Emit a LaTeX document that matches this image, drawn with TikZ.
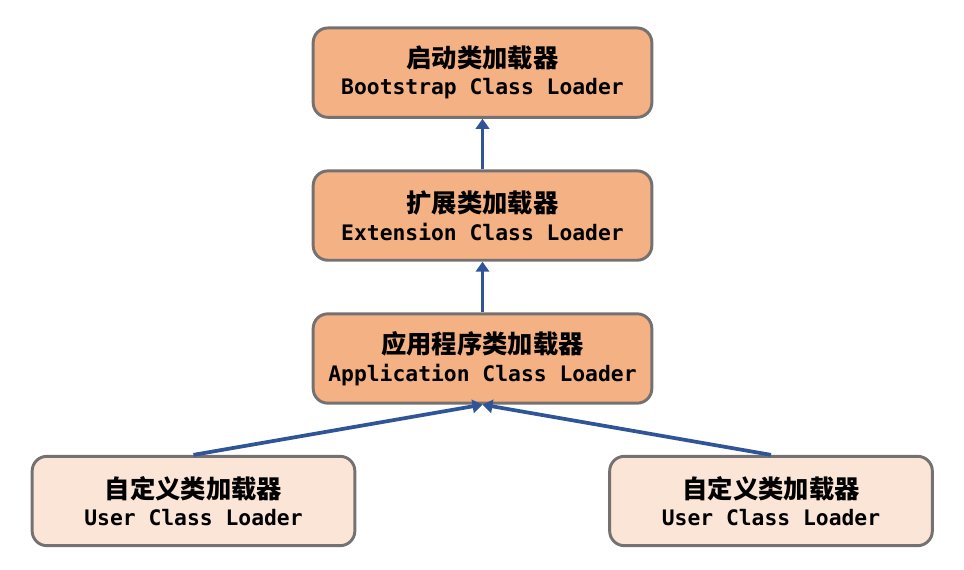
\documentclass[tikz,border=0pt]{standalone}
\usepackage{fontspec}
\setmonofont{DejaVu Sans Mono}
\newfontfamily\cjk{Noto Sans CJK SC}
\usetikzlibrary{arrows.meta,positioning}
\definecolor{ldrfill}{HTML}{F4B183}
\definecolor{usrfill}{HTML}{FBE5D6}
\definecolor{ldrline}{HTML}{767171}
\definecolor{arrowblue}{HTML}{2F5597}

\begin{document}
\begin{tikzpicture}[x=0.75pt,y=-0.75pt,
    loader/.style={draw=ldrline,line width=2.2pt,rounded corners=11pt,fill=ldrfill,
      minimum width=254pt,minimum height=67pt,align=center,font=\bfseries},
    userloader/.style={loader,fill=usrfill,minimum width=242pt,minimum height=67pt},
    up/.style={draw=arrowblue,line width=2.8pt,-{Triangle[length=7.5pt,width=10pt]}}]
      \useasboundingbox (0,0) rectangle (964,570);

      \node[loader] (app) at (482.5,358.5) {\cjk\fontsize{19}{24}\selectfont 应用程序类加载器\\[5pt]
        \ttfamily\fontsize{16}{20}\selectfont Application Class Loader};
      \node[loader,above = 38pt of app] (ext) {\cjk\fontsize{19}{24}\selectfont 扩展类加载器\\[5pt]
        \ttfamily\fontsize{16}{20}\selectfont Extension Class Loader};
      \node[loader,above = 38pt of ext] (boot) {\cjk\fontsize{19}{24}\selectfont 启动类加载器\\[5pt]
        \ttfamily\fontsize{16}{20}\selectfont Bootstrap Class Loader};

      \node[userloader] (usr1) at (193.5,501) {\cjk\fontsize{19}{24}\selectfont 自定义类加载器\\[5pt]
        \ttfamily\fontsize{16}{20}\selectfont User Class Loader};
      \node[userloader] (usr2) at (771,501) {\cjk\fontsize{19}{24}\selectfont 自定义类加载器\\[5pt]
        \ttfamily\fontsize{16}{20}\selectfont User Class Loader};

      \draw[up] (app)--(ext);
      \draw[up] (ext)--(boot);
      \draw[up] (usr1.north)--(app.south);
      \draw[up] (usr2.north)--(app.south);
\end{tikzpicture}
\end{document}
